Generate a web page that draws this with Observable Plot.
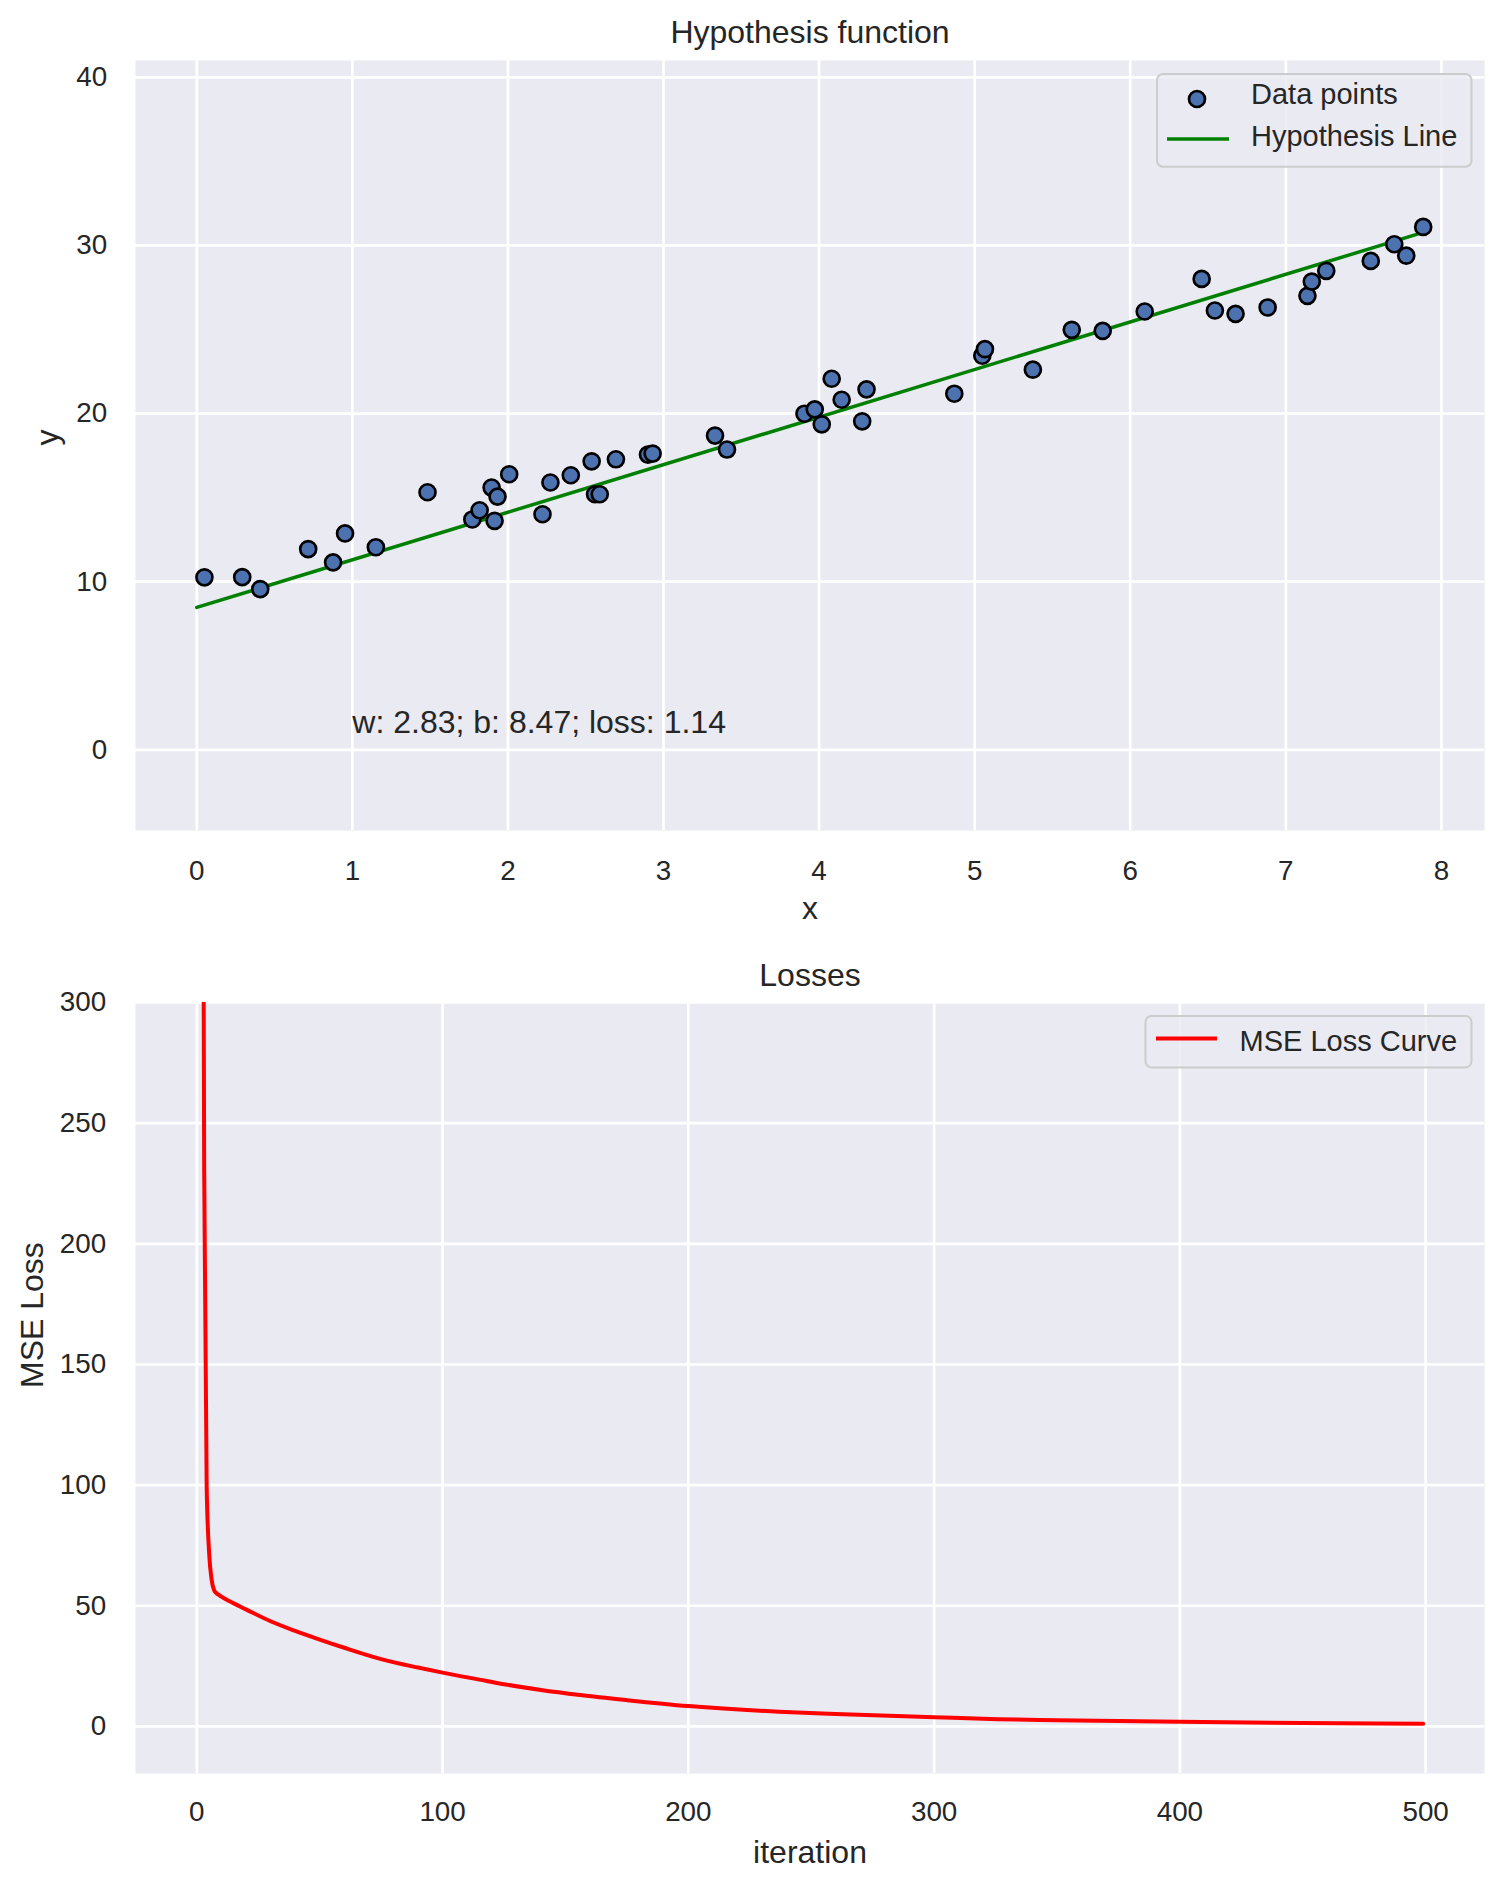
<!DOCTYPE html>
<html><head><meta charset="utf-8">
<script src="https://cdn.jsdelivr.net/npm/d3@7"></script>
<script src="https://cdn.jsdelivr.net/npm/@observablehq/plot@0.6"></script>
<style>
html,body{margin:0;padding:0;background:#fff;overflow:hidden;}
#chart{position:relative;width:1504px;height:1887px;font-family:"Liberation Sans",Arial,sans-serif;color:#262626;}
#chart > svg{display:block;}
#legend{position:absolute;left:0;top:0;pointer-events:none;}
</style></head><body><div id="chart"></div>
<script>
// ---- data: hypothesis panel ----
const pointsX = [0.049,0.292,0.408,0.716,0.876,0.953,1.151,1.483,1.771,1.818,1.895,1.933,1.914,2.008,2.222,2.273,2.404,
  2.538,2.56,2.59,2.694,2.90,2.93,3.331,3.408,3.906,3.972,4.017,4.081,4.145,4.305,4.277,4.869,
  5.049,5.066,5.374,5.624,5.823,6.093,6.459,6.544,6.677,6.883,7.139,7.167,7.260,7.546,7.697,7.774,7.883];
const pointsY = [10.26,10.27,9.56,11.94,11.15,12.87,12.05,15.32,13.70,14.25,15.60,15.06,13.62,16.39,14.01,15.90,16.33,
  17.16,15.2,15.2,17.28,17.56,17.62,18.69,17.86,19.99,20.25,19.36,22.07,20.82,21.44,19.54,21.18,
  23.44,23.83,22.61,24.98,24.92,26.07,28.01,26.13,25.93,26.31,27.00,27.85,28.49,29.08,30.07,29.39,31.10];
const weight = 2.83, bias = 8.47, finalLoss = 1.14;
const lineX = [0, 7.883];
const annX = 1, annY = 1;
const xTicks = [0,1,2,3,4,5,6,7,8];
const yTicks = [0,10,20,30,40];
const topTitle = "Hypothesis function", topXLabel = "x", topYLabel = "y";
const topLegend = ["Data points", "Hypothesis Line"];

// ---- data: loss panel ----
const lossIter = [2,3,4,5,6,7,8,9,10,15,20,30,40,50,60,75,90,100,115,125,140,156,175,200,237,260,300,326,350,400,450,499];
const lossVal  = [580,230,100,72,61,56.5,55.2,54.5,53.8,51,48.5,43.6,39.6,36.0,32.6,27.9,24.4,22.3,19.4,17.5,15.1,13.0,10.9,8.45,6.1,5.2,3.85,3.0,2.6,1.9,1.45,1.14];
const lossXTicks = [0,100,200,300,400,500];
const lossYTicks = [0,50,100,150,200,250,300];
const botTitle = "Losses", botXLabel = "iteration", botYLabel = "MSE Loss";
const botLegend = ["MSE Loss Curve"];

// ---- build ----
const FONT = '"Liberation Sans", Arial, sans-serif';
const BG = "#EAEAF2", TXT = "#262626";
const fmt = d3.format("d");
const points = pointsX.map((x, i) => ({x, y: pointsY[i]}));
const hypLine = lineX.map(x => ({x, y: weight * x + bias}));
const annotation = `w: ${weight.toFixed(2)}; b: ${bias.toFixed(2)}; loss: ${finalLoss.toFixed(2)}`;
const losses = lossIter.map((it, i) => ({it, v: lossVal[i]}));
const gridStyle = {stroke: "white", strokeOpacity: 1, strokeWidth: 2.67};
const style = {fontFamily: FONT, fontSize: "27.8px", color: TXT, background: "transparent", overflow: "visible"};

const topPlot = Plot.plot({
  width: 1504, height: 940,
  marginLeft: 135, marginRight: 20, marginTop: 60, marginBottom: 110,
  style,
  x: {domain: [-0.394, 8.277], label: null},
  y: {domain: [-4.8, 41], label: null},
  marks: [
    Plot.frame({fill: BG, stroke: "none"}),
    Plot.gridX(xTicks, gridStyle),
    Plot.gridY(yTicks, gridStyle),
    Plot.axisX(xTicks, {tickSize: 0, tickPadding: 29.4, fontSize: 27.8, label: null, tickFormat: fmt}),
    Plot.axisY(yTicks, {tickSize: 0, tickPadding: 28.4, fontSize: 27.8, label: null, tickFormat: fmt}),
    Plot.line(hypLine, {x: "x", y: "y", stroke: "#008000", strokeWidth: 3.5}),
    Plot.dot(points, {x: "x", y: "y", r: 8, fill: "#4C72B0", stroke: "black", strokeWidth: 2.67}),
    Plot.text([annotation], {x: () => annX, y: () => annY, text: d => d, textAnchor: "start", lineAnchor: "bottom", fontSize: 32, fill: TXT}),
    Plot.text([topTitle], {frameAnchor: "top", dy: -17.6, text: d => d, lineAnchor: "bottom", fontSize: 32, fill: TXT}),
    Plot.text([topXLabel], {frameAnchor: "bottom", dy: 88, text: d => d, lineAnchor: "bottom", fontSize: 32, fill: TXT}),
    Plot.text([topYLabel], {frameAnchor: "left", dx: -88, rotate: -90, text: d => d, lineAnchor: "middle", fontSize: 32, fill: TXT})
  ]
});

const botPlot = Plot.plot({
  width: 1504, height: 947,
  marginLeft: 135, marginRight: 20, marginTop: 62, marginBottom: 114,
  style,
  x: {domain: [-24.95, 523.95], label: null},
  y: {domain: [-19.5, 300], label: null},
  marks: [
    Plot.frame({fill: BG, stroke: "none"}),
    Plot.gridX(lossXTicks, gridStyle),
    Plot.gridY(lossYTicks, gridStyle),
    Plot.axisX(lossXTicks, {tickSize: 0, tickPadding: 27.5, fontSize: 27.8, label: null, tickFormat: fmt}),
    Plot.axisY(lossYTicks, {tickSize: 0, tickPadding: 29.3, fontSize: 27.8, label: null, tickFormat: fmt}),
    Plot.line(losses, {x: "it", y: "v", stroke: "#FF0000", strokeWidth: 4, curve: "monotone-x", clip: true}),
    Plot.text([botTitle], {frameAnchor: "top", dy: -17, text: d => d, lineAnchor: "bottom", fontSize: 32, fill: TXT}),
    Plot.text([botXLabel], {frameAnchor: "bottom", dy: 89, text: d => d, lineAnchor: "bottom", fontSize: 32, fill: TXT}),
    Plot.text([botYLabel], {frameAnchor: "left", dx: -102.5, rotate: -90, text: d => d, lineAnchor: "middle", fontSize: 32, fill: TXT})
  ]
});

const chart = document.getElementById("chart");
chart.appendChild(topPlot);
chart.appendChild(botPlot);

// ---- legends (overlay) ----
const lg = d3.select(chart).append("svg").attr("id", "legend")
  .attr("width", 1504).attr("height", 1887)
  .style("font-family", FONT).style("font-size", "29px");

// top legend
lg.append("rect").attr("x", 1157).attr("y", 74).attr("width", 314.5).attr("height", 92.7).attr("rx", 6)
  .attr("fill", BG).attr("fill-opacity", 0.8).attr("stroke", "#CCCCCC").attr("stroke-width", 2);
lg.append("circle").attr("cx", 1197).attr("cy", 99).attr("r", 8)
  .attr("fill", "#4C72B0").attr("stroke", "black").attr("stroke-width", 2.67);
lg.append("text").attr("x", 1251).attr("y", 104).attr("fill", TXT).text(topLegend[0]);
lg.append("line").attr("x1", 1167).attr("x2", 1229).attr("y1", 139).attr("y2", 139)
  .attr("stroke", "#008000").attr("stroke-width", 3.5);
lg.append("text").attr("x", 1251).attr("y", 146.3).attr("fill", TXT).text(topLegend[1]);

// bottom legend
lg.append("rect").attr("x", 1145.5).attr("y", 1016).attr("width", 326).attr("height", 51.4).attr("rx", 6)
  .attr("fill", BG).attr("fill-opacity", 0.8).attr("stroke", "#CCCCCC").attr("stroke-width", 2);
lg.append("line").attr("x1", 1156).attr("x2", 1217).attr("y1", 1038.4).attr("y2", 1038.4)
  .attr("stroke", "#FF0000").attr("stroke-width", 4);
lg.append("text").attr("x", 1239.5).attr("y", 1050.5).attr("fill", TXT).text(botLegend[0]);
</script></body></html>
